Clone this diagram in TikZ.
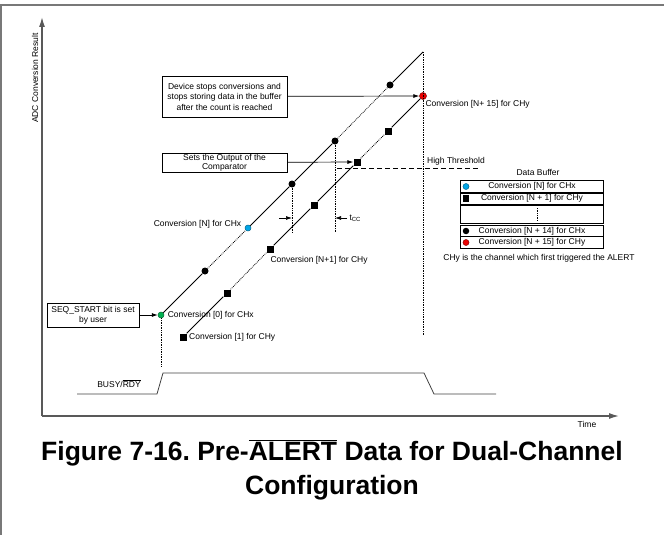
\documentclass[tikz,border=0pt]{standalone}
\usepackage{fontspec}
\setmainfont{Liberation Sans}
\usetikzlibrary{arrows.meta,positioning}

\definecolor{dotblue}{RGB}{0,165,230}
\definecolor{dotgreen}{RGB}{0,175,80}
\definecolor{dotred}{RGB}{235,0,0}
\definecolor{framegray}{RGB}{120,120,120}

\begin{document}
\frenchspacing
\begin{tikzpicture}[x=1pt, y=-1pt, font=\fontsize{8.5}{10.5}\selectfont,
    xdot/.style={circle, fill=black, inner sep=0pt, minimum size=7pt},
    ysq/.style={rectangle, fill=black, inner sep=0pt, minimum size=7pt},
    cdot/.style={circle, draw=#1!60!black, fill=#1, line width=0.5pt, inner sep=0pt, minimum size=6pt},
    box/.style={draw, rectangle, align=center, line width=0.7pt, inner sep=0pt},
    conn/.style={-{Latex[length=6pt,width=4pt]}, line width=0.7pt},
    axis/.style={-{Latex[length=10pt,width=6pt]}, line width=1.3pt, draw=black!65},
    seg/.style={line width=0.8pt},
    gap/.style={densely dotted, line width=0.8pt},
    drop/.style={densely dotted, line width=0.7pt},
    caption/.style={font=\bfseries\fontsize{26.5}{30}\selectfont}]
    \useasboundingbox (0,0) rectangle (664,535);

    % page frame
    \draw[framegray, line width=1.4pt] (0,5) -- (664,5);
    \draw[framegray, line width=1.4pt] (1,5) -- (1,535);

    % axes
    \coordinate (O) at (42,416);
    \coordinate (ytip) at (42,17);
    \coordinate (xtip) at (619,416);
    \draw[axis] (O) -- (ytip);
    \draw[axis] (O) -- (xtip);
    \node (ylab) [rotate=90] at (35,78) {ADC Conversion Result};
    \node (tlab) at (587,424) {Time};

    % CHx conversions
    \node (x0) [cdot=dotgreen] at (161,315) {};
    \node (x1) [xdot] at (205,271) {};
    \node (xN) [cdot=dotblue] at (248,228) {};
    \node (x3) [xdot] at (292,184) {};
    \node (x4) [xdot] at (335,141) {};
    \node (x14) [xdot] at (390,85) {};
    \coordinate (xtop) at (423,52);

    \draw[seg] (x0) -- (x1);
    \draw[gap] (x1) -- (xN);
    \draw[seg] (xN) -- (x3);
    \draw[seg] (x3) -- (x4);
    \draw[gap] (x4) -- (x14);
    \draw[seg] (x14) -- (xtop);

    % CHy conversions
    \node (y1) [ysq] at (183,337) {};
    \node (y2) [ysq] at (227,293) {};
    \node (y3) [ysq] at (270,249) {};
    \node (y4) [ysq] at (314,205) {};
    \node (y5) [ysq] at (357,162) {};
    \node (y6) [ysq] at (388,131) {};
    \node (y15) [cdot=dotred, minimum size=7pt] at (423,96) {};

    \draw[seg] (y1) -- (y2);
    \draw[gap] (y2) -- (y3);
    \draw[seg] (y3) -- (y4);
    \draw[seg] (y4) -- (y5);
    \draw[gap] (y5) -- (y6);
    \draw[seg] (y6) -- (y15);

    % conversion labels
    \node (lx0) [right=0pt of x0] {Conversion [0] for CHx};
    \node (ly1) [right=-1pt of y1] {Conversion [1] for CHy};
    \node (lxN) [left=0pt of xN, yshift=4pt] {Conversion [N] for CHx};
    \node (ly3) [anchor=west] at (267,260) {Conversion [N+1] for CHy};
    \node (ly15) [anchor=west] at (422,104) {Conversion [N+ 15] for CHy};

    % vertical markers
    \coordinate (d0) at (161,367);
    \coordinate (d1) at (292,233);
    \coordinate (d2) at (335,233);
    \coordinate (d3) at (423,335);
    \draw[drop] (x0) -- (d0);
    \draw[drop] (x3) -- (d1);
    \draw[drop] (x4) -- (d2);
    \draw[drop] (xtop) -- (d3);

    % t_CC
    \coordinate (ta) at (279,218);
    \coordinate (tb) at (292,218);
    \coordinate (tc) at (347,218);
    \coordinate (td) at (335,218);
    \draw[conn] (ta) -- (tb);
    \draw[conn] (tc) -- (td);
    \node (tcc) [right=-1pt of tc] {t\textsubscript{CC}};

    % threshold
    \coordinate (th1) at (337,168);
    \coordinate (th2) at (480,168);
    \draw[dash pattern=on 5pt off 3pt, line width=0.7pt] (th1) -- (th2);
    \node (thlab) [anchor=south west, inner sep=1pt] at (426,166) {High Threshold};

    % callout boxes
    \node (stopbox) [box, minimum width=125pt, minimum height=41pt] at (224.5,96.5)
        {Device stops conversions and\\stops storing data in the buffer\\after the count is reached};
    \node (cmpbox) [box, minimum width=125pt, minimum height=19pt,
        font=\fontsize{8.5}{9}\selectfont] at (224.5,162.5)
        {Sets the Output of the\\Comparator};
    \node (seqbox) [box, minimum width=92pt, minimum height=24pt,
        font=\fontsize{8.5}{10}\selectfont] at (93,315)
        {SEQ\_START bit is set\\by user};

    \draw[conn] (stopbox) -- (y15);
    \draw[conn] (cmpbox) -- (y5);
    \draw[conn] (seqbox) -- (x0);

    % BUSY/RDY
    \coordinate (b0) at (77,394);
    \coordinate (b1) at (157,394);
    \coordinate (b2) at (163,373);
    \coordinate (b3) at (424,373);
    \coordinate (b4) at (434,394);
    \coordinate (b5) at (496,394);
    \draw[line width=0.8pt, black!75] (b0) -- (b1) -- (b2) -- (b3) -- (b4) -- (b5);
    \node (busy) at (119,384) {BUSY/$\overline{\mbox{RDY}}$};

    % data buffer
    \node (row1) [box, minimum width=143pt, minimum height=11.5pt] at (532,186.5) {Conversion [N] for CHx};
    \node (row2) [box, minimum width=143pt, minimum height=11pt] at (532,198.5) {Conversion [N + 1] for CHy};
    \node (row3) [box, minimum width=143pt, minimum height=18pt] at (532,214.5) {};
    \node (row4) [box, minimum width=143pt, minimum height=11pt] at (532,231) {Conversion [N + 14] for CHx};
    \node (row5) [box, minimum width=143pt, minimum height=12pt] at (532,242.5) {Conversion [N + 15] for CHy};
    \node (buftitle) [above=1pt of row1, xshift=6pt] {Data Buffer};
    \node (bufnote) at (539,258) {CHy is the channel which first triggered the ALERT};

    \node (m1) [cdot=dotblue] at (466,186.5) {};
    \node (m2) [ysq, minimum size=6.5pt] at (466,198.5) {};
    \node (m4) [xdot, minimum size=6.5pt] at (466,231) {};
    \node (m5) [cdot=dotred] at (466,242.5) {};
    \coordinate (r3a) at (537,208);
    \coordinate (r3b) at (537,221);
    \draw[drop] (r3a) -- (r3b);

    % caption
    \node (cap1) [caption] at (332,453)
        {Figure 7-16. Pre-$\overline{\mbox{ALERT}}$ Data for Dual-Channel};
    \node (cap2) [caption] at (332,488) {Configuration};
\end{tikzpicture}
\end{document}
